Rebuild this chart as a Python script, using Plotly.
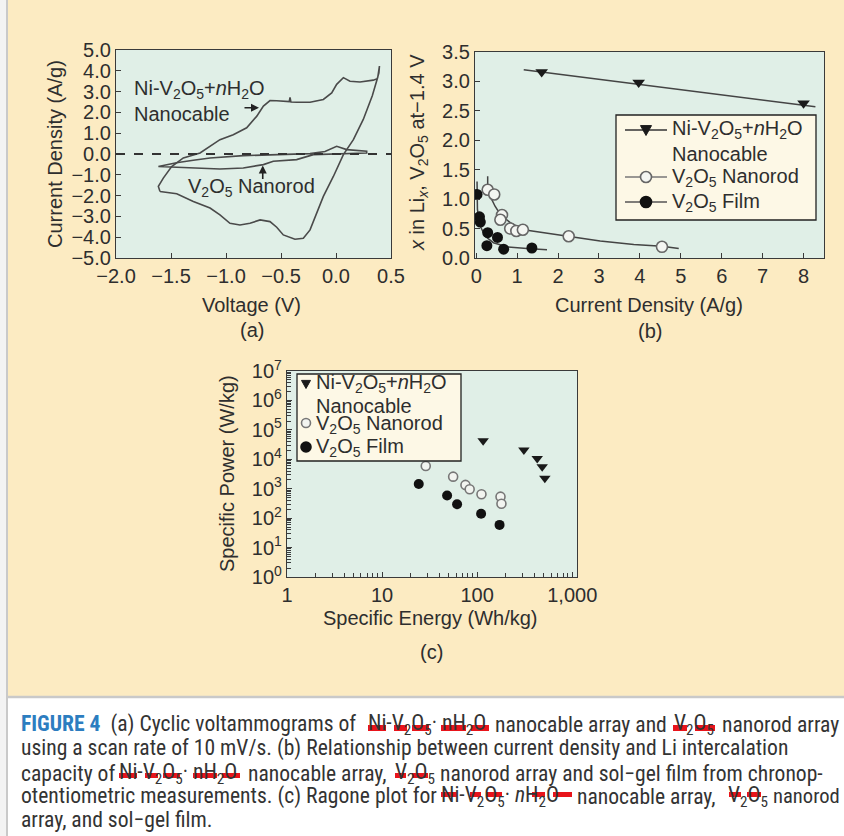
import plotly.graph_objects as go

W, H = 844, 836
def px(x): return x / W
def py(y): return 1 - y / H

# ---------------- Data: panel (a) cyclic voltammograms ----------------
cable_v = [-1.60, -1.615, -1.57, -1.494, -1.388, -1.236, -1.055, -0.934, -0.812, -0.72, -0.66, -0.60,
           -0.54, -0.479, -0.425, -0.418, -0.41, -0.358, -0.236, -0.115, -0.039, 0.006, 0.067, 0.127,
           0.218, 0.339, 0.375, 0.39, 0.395, 0.38, 0.33, 0.248, 0.158, 0.067, -0.024, -0.115, -0.19,
           -0.236, -0.297, -0.373, -0.479, -0.539, -0.60, -0.69, -0.782, -0.873, -0.964, -1.055,
           -1.145, -1.297, -1.448, -1.60]
cable_i = [-1.80, -1.56, -1.16, -0.60, -0.19, 0.05, 0.69, 0.93, 1.26, 1.82, 2.30, 2.57,
           2.56, 2.54, 2.52, 2.72, 2.50, 2.49, 2.49, 2.62, 2.94, 3.35, 3.67, 3.50,
           3.46, 3.55, 3.62, 3.90, 4.23, 3.70, 2.80, 1.66, 0.69, -0.03, -1.08, -2.04, -3.00,
           -3.65, -4.05, -4.10, -3.89, -3.52, -3.25, -3.17, -3.33, -3.41, -3.33, -2.93,
           -2.60, -2.28, -1.91, -1.80]
rod_v = [-1.615, -1.45, -1.297, -1.145, -0.843, -0.54, -0.236, -0.10, 0.006, 0.097, 0.279,
         0.279, 0.127, -0.206, -0.358, -0.57, -0.66, -0.843, -1.055, -1.297, -1.45, -1.615]
rod_i = [-0.60, -0.42, -0.30, -0.19, -0.08, -0.03, 0.02, 0.12, 0.37, 0.21, 0.13,
         0.05, 0.02, -0.03, -0.27, -0.35, -0.51, -0.67, -0.72, -0.67, -0.62, -0.60]

# ---------------- Data: panel (b) Li intercalation ----------------
cable_b_x = [1.6, 3.97, 8.0]
cable_b_y = [3.16, 2.98, 2.63]
cable_fit_x = [1.16, 8.29]
cable_fit_y = [3.20, 2.57]
rod_b_x = [0.28, 0.44, 0.63, 0.59, 0.83, 0.98, 1.14, 2.26, 4.54]
rod_b_y = [1.16, 1.08, 0.73, 0.65, 0.50, 0.46, 0.48, 0.37, 0.19]
rod_fit_x = [0.28, 0.28, 0.34, 0.46, 0.59, 0.83, 1.16, 1.81, 2.26, 3.03, 3.85, 4.54, 4.95]
rod_fit_y = [1.39, 1.16, 1.05, 0.88, 0.74, 0.60, 0.48, 0.41, 0.37, 0.29, 0.23, 0.20, 0.16]
film_b_x = [0.02, 0.08, 0.10, 0.28, 0.52, 0.26, 0.67, 1.36]
film_b_y = [1.08, 0.70, 0.61, 0.43, 0.35, 0.21, 0.15, 0.17]
film_fit_x = [0.02, 0.03, 0.10, 0.22, 0.42, 0.75, 1.24, 1.73]
film_fit_y = [1.30, 0.82, 0.54, 0.37, 0.26, 0.19, 0.16, 0.14]

# ---------------- Data: panel (c) Ragone plot ----------------
cable_c_e = [115.6, 310, 428, 483, 515]
cable_c_p = [42700, 20600, 10700, 5600, 2250]
rod_c_e = [28.8, 55.9, 75.3, 83.4, 111, 176, 180]
rod_c_p = [5900, 2570, 1350, 960, 650, 537, 309]
film_c_e = [24.3, 48.3, 61.5, 110, 172]
film_c_p = [1450, 590, 296, 141, 59]

x_ticks_a = [-2.0, -1.5, -1.0, -0.5, 0.0, 0.5]
y_ticks_a = [-5, -4, -3, -2, -1, 0, 1, 2, 3, 4, 5]
x_ticks_b = [0, 1, 2, 3, 4, 5, 6, 7, 8]
y_ticks_b = [0.0, 0.5, 1.0, 1.5, 2.0, 2.5, 3.0, 3.5]
x_ticks_c = [1, 10, 100, 1000]
x_ticklabels_c = ["1", "10", "100", "1,000"]
y_ticks_c = [1, 10, 100, 1e3, 1e4, 1e5, 1e6, 1e7]
y_ticklabels_c = ["10<sup>0</sup>", "10<sup>1</sup>", "10<sup>2</sup>", "10<sup>3</sup>",
                  "10<sup>4</sup>", "10<sup>5</sup>", "10<sup>6</sup>", "10<sup>7</sup>"]
minor_mult = [2, 3, 4, 5, 6, 7, 8, 9]

NICABLE1 = "Ni-V<sub>2</sub>O<sub>5</sub>+<i>n</i>H<sub>2</sub>O"
NICABLE = NICABLE1 + "<br>Nanocable"
NANOROD = "V<sub>2</sub>O<sub>5</sub> Nanorod"
FILM = "V<sub>2</sub>O<sub>5</sub> Film"

FONT = "Liberation Sans, Arial, Helvetica, sans-serif"
TXT = "#2e2e2e"
LINE = "#3a3a3a"
CREAM = "#FCEBC2"
MINT = "#E0EFE7"
LEGBG = "#FDF8E6"

fig = go.Figure()

# panel (a)
fig.add_trace(go.Scatter(x=cable_v, y=cable_i, mode="lines", line=dict(color="#4a4a4a", width=1.6),
                         xaxis="x", yaxis="y", name="Ni-V2O5+nH2O nanocable", showlegend=False))
fig.add_trace(go.Scatter(x=rod_v, y=rod_i, mode="lines", line=dict(color="#4a4a4a", width=1.6),
                         xaxis="x", yaxis="y", name="V2O5 nanorod", showlegend=False))

# panel (b)
for fx, fy in [(cable_fit_x, cable_fit_y), (rod_fit_x, rod_fit_y), (film_fit_x, film_fit_y)]:
    fig.add_trace(go.Scatter(x=fx, y=fy, mode="lines", line=dict(color="#444", width=1.5),
                             xaxis="x2", yaxis="y2", showlegend=False, hoverinfo="skip"))
tri = dict(symbol="triangle-down", size=11, color="#1a1a1a")
ocirc = dict(symbol="circle", size=11, color="#f4f6f2", line=dict(color="#666", width=1.6))
fcirc = dict(symbol="circle", size=11, color="#111")
fig.add_trace(go.Scatter(x=cable_b_x, y=cable_b_y, mode="markers", marker=tri, xaxis="x2", yaxis="y2",
                         name=NICABLE, showlegend=False))
fig.add_trace(go.Scatter(x=rod_b_x, y=rod_b_y, mode="markers", marker=ocirc, xaxis="x2", yaxis="y2",
                         name=NANOROD, showlegend=False))
fig.add_trace(go.Scatter(x=film_b_x, y=film_b_y, mode="markers", marker=fcirc, xaxis="x2", yaxis="y2",
                         name=FILM, showlegend=False))

# panel (c)
fig.add_trace(go.Scatter(x=cable_c_e, y=cable_c_p, mode="markers",
                         marker=dict(symbol="triangle-down", size=10, color="#1a1a1a"),
                         name=NICABLE, xaxis="x3", yaxis="y3", showlegend=False))
fig.add_trace(go.Scatter(x=rod_c_e, y=rod_c_p, mode="markers",
                         marker=dict(symbol="circle", size=9, color="#f2f4f0", line=dict(color="#777", width=1.6)),
                         name=NANOROD, xaxis="x3", yaxis="y3", showlegend=False))
fig.add_trace(go.Scatter(x=film_c_e, y=film_c_p, mode="markers",
                         marker=dict(symbol="circle", size=10, color="#111"),
                         name=FILM, xaxis="x3", yaxis="y3", showlegend=False))

axis_common = dict(showline=True, linecolor=LINE, linewidth=1.2, mirror=True, ticks="inside",
                   ticklen=5, tickcolor=LINE, showgrid=False, zeroline=False, automargin=False,
                   tickfont=dict(family=FONT, size=20, color=TXT))

cx_minor = [m * 10 ** d for d in range(0, 4) for m in minor_mult if m * 10 ** d < 1100]
cy_minor = [m * 10 ** d for d in range(0, 7) for m in minor_mult]

fig.update_layout(
    template="none", showlegend=False,
    width=W, height=H, margin=dict(l=0, r=0, t=0, b=0, pad=0, autoexpand=False),
    paper_bgcolor=CREAM, plot_bgcolor=MINT,
    font=dict(family=FONT, size=20, color=TXT),
    xaxis=dict(axis_common, domain=[px(116), px(391)], range=[-2, 0.5], tickvals=x_ticks_a,
               tickformat=".1f", anchor="y"),
    yaxis=dict(axis_common, domain=[py(258), py(50)], range=[-5, 5], tickvals=y_ticks_a,
               tickformat=".1f", anchor="x"),
    xaxis2=dict(axis_common, domain=[px(475), px(824)], range=[-0.03, 8.5], tickvals=x_ticks_b, anchor="y2"),
    yaxis2=dict(axis_common, domain=[py(258), py(52)], range=[0, 3.5], tickvals=y_ticks_b,
                tickformat=".1f", anchor="x2"),
    xaxis3=dict(axis_common, type="log", domain=[px(287), px(577)], range=[0, 3.05],
                tickvals=x_ticks_c, ticktext=x_ticklabels_c, ticklen=5, anchor="y3",
                minor=dict(tickvals=cx_minor, ticks="inside", ticklen=4, tickcolor=LINE)),
    yaxis3=dict(axis_common, type="log", domain=[py(577), py(371)], range=[0, 7],
                tickvals=y_ticks_c, ticktext=y_ticklabels_c, ticklen=5, anchor="x3",
                minor=dict(tickvals=cy_minor, ticks="inside", ticklen=4, tickcolor=LINE)),
)

shapes = [
    dict(type="line", xref="x", yref="y", x0=-2, x1=0.5, y0=0, y1=0,
         line=dict(color="#333", width=2, dash="dash")),
    dict(type="rect", xref="paper", yref="paper", x0=px(7), x1=1, y0=0, y1=py(697),
         fillcolor="white", line=dict(width=0), layer="below"),
    dict(type="line", xref="paper", yref="paper", x0=px(7), x1=1, y0=py(697), y1=py(697),
         line=dict(color="#c9c9c9", width=2.5)),
    dict(type="rect", xref="paper", yref="paper", x0=0, x1=px(6), y0=0, y1=1,
         fillcolor="#f3f3f3", line=dict(width=0), layer="below"),
    dict(type="line", xref="paper", yref="paper", x0=px(7), x1=px(7), y0=0, y1=1,
         line=dict(color="#c9c9c9", width=2)),
]

ann = []
def A(x, y, text, **kw):
    d = dict(x=px(x), y=py(y), xref="paper", yref="paper", text=text, showarrow=False,
             xanchor="center", yanchor="middle", font=dict(family=FONT, size=20, color=TXT))
    d.update(kw)
    ann.append(d)

# ---- hand-built legends ----
def box(x0, y0, x1, y1):
    shapes.append(dict(type="rect", xref="paper", yref="paper", x0=px(x0), x1=px(x1), y0=py(y1), y1=py(y0),
                       fillcolor=LEGBG, line=dict(color="#222", width=1.3), layer="above"))
def seg(x0, x1, y, color="#333"):
    shapes.append(dict(type="line", xref="paper", yref="paper", x0=px(x0), x1=px(x1), y0=py(y), y1=py(y),
                       line=dict(color=color, width=1.5), layer="above"))
def dot(cx, cy, r, fill, edge, lw=1.6):
    shapes.append(dict(type="circle", xref="paper", yref="paper", x0=px(cx - r), x1=px(cx + r),
                       y0=py(cy + r), y1=py(cy - r), fillcolor=fill, line=dict(color=edge, width=lw), layer="above"))
def tri_down(cx, cy, s, fill):
    h = s * 0.5
    p = "M {} {} L {} {} L {} {} Z".format(px(cx - h), py(cy - h * 0.8), px(cx + h), py(cy - h * 0.8),
                                         px(cx), py(cy + h))
    shapes.append(dict(type="path", xref="paper", yref="paper", path=p, fillcolor=fill,
                       line=dict(color=fill, width=1), layer="above"))

# legend (b)
box(616, 115, 816, 220)
seg(625, 667, 130); tri_down(646, 130, 11, "#1a1a1a")
seg(625, 667, 177, "#777"); dot(646, 177, 5.5, "#f4f6f2", "#666")
seg(625, 667, 202, "#555"); dot(646, 202, 5.5, "#111", "#111")
A(670, 130, NICABLE1, xanchor="left")
A(670, 154, "Nanocable", xanchor="left")
A(670, 177, NANOROD, xanchor="left")
A(670, 202, FILM, xanchor="left")

# legend (c)
box(297, 374, 461, 461)
tri_down(306, 384, 9, "#1a1a1a")
dot(306, 423, 4.5, "#f2f4f0", "#777")
dot(306, 447, 5, "#111", "#111")
A(314, 384, NICABLE1, xanchor="left")
A(314, 406, "Nanocable", xanchor="left")
A(314, 424, NANOROD, xanchor="left")
A(314, 447, FILM, xanchor="left")

# axis titles / panel labels
A(55, 154, "Current Density (A/g)", textangle=-90)
A(252, 305, "Voltage (V)")
A(252, 330, "(a)")
A(418, 153, "<i>x</i> in Li<sub><i>x</i></sub>, V<sub>2</sub>O<sub>5</sub> at−1.4 V", textangle=-90)
A(649, 305, "Current Density (A/g)")
A(650, 331, "(b)")
A(227, 473, "Specific Power (W/kg)", textangle=-90)
A(430, 618, "Specific Energy (Wh/kg)")
A(432, 652, "(c)")

# in-plot labels for (a)
ann.append(dict(x=-1.855, y=2.55, xref="x", yref="y", xanchor="left", yanchor="middle", align="left",
                text=NICABLE, showarrow=False, font=dict(family=FONT, size=20, color=TXT)))
ann.append(dict(x=-0.77, y=-1.62, xref="x", yref="y", text=NANOROD, showarrow=False,
                font=dict(family=FONT, size=20, color=TXT)))
ann.append(dict(x=-0.70, y=2.22, xref="x", yref="y", text="", showarrow=True, ax=-16, ay=0,
                arrowhead=2, arrowsize=1, arrowwidth=1.6, arrowcolor="#222"))
ann.append(dict(x=-0.666, y=-0.55, xref="x", yref="y", text="", showarrow=True, ax=0, ay=15,
                arrowhead=2, arrowsize=1, arrowwidth=1.6, arrowcolor="#222"))

# ---------------- caption ----------------
CAP = "Liberation Sans Narrow, Arial Narrow, Roboto Condensed, DejaVu Sans Condensed, sans-serif"
CAPSIZE = 21.6
F = "Ni-V<sub>2</sub>O<sub>5</sub>· nH<sub>2</sub>O"
FI = "Ni-V<sub>2</sub>O<sub>5</sub>· <i>n</i>H<sub>2</sub>O"
V = "V<sub>2</sub>O<sub>5</sub>"
# (y-centre, x, anchor, font size, text)
cap_pieces = [
    (724, 20, "left", CAPSIZE, "<span style='color:#2C7DC0'><b>FIGURE 4</b></span>  (a) Cyclic voltammograms of"),
    (724, 367, "left", CAPSIZE, F), (724, 494, "left", CAPSIZE, "nanocable array and"),
    (724, 673, "left", CAPSIZE, V), (724, 840, "right", CAPSIZE, "nanorod array"),
    (748, 20, "left", CAPSIZE, "using a scan rate of 10 mV/s. (b) Relationship between current density and Li intercalation"),
    (773, 20, "left", CAPSIZE, "capacity of"), (773, 118, "left", CAPSIZE, F),
    (773, 247, "left", CAPSIZE, "nanocable array,"), (773, 394, "left", CAPSIZE, V),
    (773, 439, "left", CAPSIZE, "nanorod array and sol−gel film from chronop-"),
    (796, 20, "left", CAPSIZE, "otentiometric measurements. (c) Ragone plot for"), (796, 440, "left", CAPSIZE, FI),
    (796, 576, "left", CAPSIZE, "nanocable array,"), (796, 727, "left", CAPSIZE, V),
    (796, 841, "right", 20.6, "nanorod"),
    (819, 20, "left", CAPSIZE, "array, and sol−gel film."),
]
for yc, xs, anc, fs, t in cap_pieces:
    A(xs, yc, t, xanchor=anc, yanchor="middle", align=anc, borderpad=0,
      font=dict(family=CAP, size=fs, color="#333"))

red_bars = [
    (368, 386, 725, 731), (394, 407, 725, 731), (412, 429, 725, 731), (441, 466, 725, 731), (471, 489, 725, 731),
    (673, 687, 725, 731), (695, 715, 725, 731),
    (119, 137, 773, 778), (145, 158, 773, 778), (163, 180, 773, 778), (193, 217, 773, 778), (222, 240, 773, 778),
    (395, 406, 773, 778), (412, 428, 773, 778),
    (441, 457, 792, 797), (470, 481, 792, 797), (487, 502, 792, 797), (532, 545, 792, 797), (553, 572, 792, 797),
    (729, 741, 792, 797), (747, 761, 792, 797),
]
for x0, x1, y0, y1 in red_bars:
    shapes.append(dict(type="rect", xref="paper", yref="paper", x0=px(x0), x1=px(x1), y0=py(y1), y1=py(y0),
                       fillcolor="#E8141B", line=dict(width=0), layer="above"))

fig.update_layout(shapes=shapes, annotations=ann)
fig.write_html("out.html", config={"displayModeBar": False},
               post_script="document.body.style.margin='0';document.body.style.overflow='hidden';")
